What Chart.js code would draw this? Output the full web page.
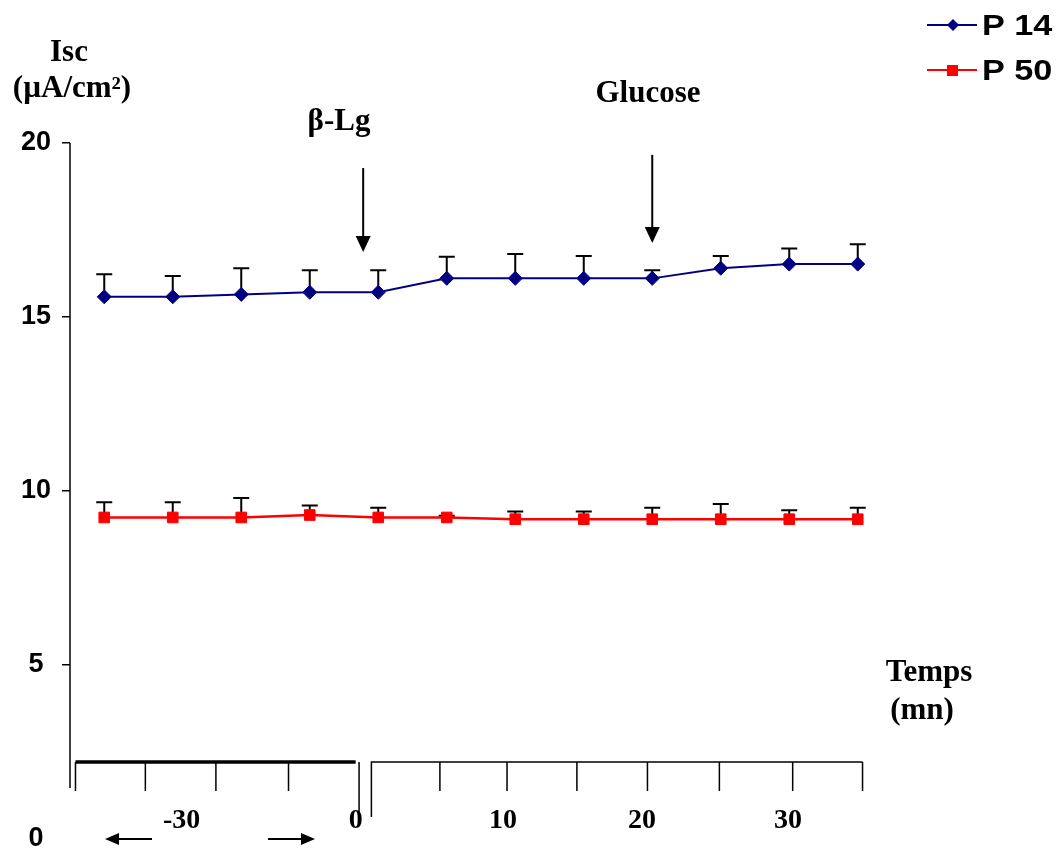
<!DOCTYPE html>
<html>
<head>
<meta charset="utf-8">
<title>Isc P14 / P50</title>
<script src="https://cdn.jsdelivr.net/npm/chart.js"></script>
<style>
  html, body { margin: 0; padding: 0; background: #fff; overflow: hidden; }
  #wrap { position: relative; width: 1060px; height: 853px; }
</style>
</head>
<body>
<div id="wrap"><canvas id="iscChart"></canvas></div>
<script>
// measurement points (index along the broken time axis)
const points = [1, 2, 3, 4, 5, 6, 7, 8, 9, 10, 11, 12];
const p14 = [15.58, 15.58, 15.65, 15.71, 15.71, 16.11, 16.11, 16.11, 16.11, 16.40, 16.52, 16.52];
const p14Err = [0.65, 0.60, 0.75, 0.63, 0.63, 0.62, 0.70, 0.64, 0.23, 0.35, 0.45, 0.57];
const p50 = [9.24, 9.24, 9.24, 9.31, 9.24, 9.24, 9.19, 9.19, 9.19, 9.19, 9.19, 9.19];
const p50Err = [0.44, 0.44, 0.56, 0.27, 0.28, 0.05, 0.22, 0.22, 0.33, 0.44, 0.26, 0.33];
const yTicks = [0, 5, 10, 15, 20];
const timeLabels = ['-30', '0', '10', '20', '30'];

const serif = 'bold 31px "Liberation Serif", "Times New Roman", serif';
const sans = '"Liberation Sans", Arial, sans-serif';

// broken time axis drawn under the plot, positions in x-scale units
const timeAxis = {
  pre: { start: 0.58, end: 4.67, ticks: [0.58, 1.6, 2.63, 3.69], split: 4.72 },
  post: { start: 4.9, end: 12.07, ticks: [5.9, 6.88, 7.9, 8.93, 9.98, 11.05, 12.07] },
  labelAt: [2.13, 4.67, 6.82, 8.85, 10.98]
};

const annotations = {
  id: 'annotations',
  beforeDatasetsDraw(chart) {
    const { ctx, scales: { x, y } } = chart;
    ctx.save();
    ctx.strokeStyle = '#000';
    ctx.lineWidth = 2;
    [[p14, p14Err], [p50, p50Err]].forEach(([vals, errs]) => {
      vals.forEach((v, i) => {
        const px = x.getPixelForValue(points[i]);
        const y0 = y.getPixelForValue(v);
        const y1 = y.getPixelForValue(v + errs[i]);
        ctx.beginPath();
        ctx.moveTo(px, y0);
        ctx.lineTo(px, y1);
        ctx.moveTo(px - 8, y1);
        ctx.lineTo(px + 8, y1);
        ctx.stroke();
      });
    });
    ctx.restore();
  },
  afterDraw(chart) {
    const { ctx, chartArea, scales: { x, y } } = chart;
    const left = chartArea.left;
    ctx.save();
    ctx.strokeStyle = '#000';
    ctx.fillStyle = '#000';

    // y axis line
    ctx.lineWidth = 1.5;
    ctx.beginPath();
    ctx.moveTo(left, y.getPixelForValue(20));
    ctx.lineTo(left, 788);
    ctx.stroke();

    // treatment arrows
    const arrow = (xv, yTop, yTip) => {
      const px = x.getPixelForValue(xv);
      const t = y.getPixelForValue(yTop), b = y.getPixelForValue(yTip);
      ctx.lineWidth = 2;
      ctx.beginPath();
      ctx.moveTo(px, t);
      ctx.lineTo(px, b - 14);
      ctx.stroke();
      ctx.beginPath();
      ctx.moveTo(px - 7.5, b - 16);
      ctx.lineTo(px + 7.5, b - 16);
      ctx.lineTo(px, b);
      ctx.closePath();
      ctx.fill();
    };
    arrow(4.78, 19.28, 16.87);
    arrow(9, 19.66, 17.13);

    ctx.font = serif;
    ctx.textAlign = 'center';
    ctx.textBaseline = 'alphabetic';
    ctx.fillText('Isc', 69, 61);
    ctx.fillText('(µA/cm²)', 72, 97);
    ctx.fillText('β-Lg', 339, 130);
    ctx.fillText('Glucose', 648, 102);
    ctx.fillText('Temps', 929, 681);
    ctx.fillText('(mn)', 922, 719);

    // broken time axis
    const axY = 762, tickB = 791, longB = 817;
    const pre = timeAxis.pre, post = timeAxis.post;
    ctx.lineWidth = 3.5;
    ctx.beginPath();
    ctx.moveTo(x.getPixelForValue(pre.start), axY);
    ctx.lineTo(x.getPixelForValue(pre.end), axY);
    ctx.stroke();
    ctx.lineWidth = 1.5;
    ctx.beginPath();
    pre.ticks.forEach(t => {
      const px = x.getPixelForValue(t);
      ctx.moveTo(px, axY);
      ctx.lineTo(px, tickB);
    });
    let sp = x.getPixelForValue(pre.split);
    ctx.moveTo(sp, axY);
    ctx.lineTo(sp, longB);
    sp = x.getPixelForValue(post.start);
    ctx.moveTo(sp, longB);
    ctx.lineTo(sp, axY);
    ctx.lineTo(x.getPixelForValue(post.end), axY);
    post.ticks.forEach(t => {
      const px = x.getPixelForValue(t);
      ctx.moveTo(px, axY);
      ctx.lineTo(px, tickB);
    });
    ctx.stroke();

    ctx.font = 'bold 28px "Liberation Serif", "Times New Roman", serif';
    timeLabels.forEach((lab, i) => {
      ctx.fillText(lab, x.getPixelForValue(timeAxis.labelAt[i]), 828);
    });

    // horizontal arrows under the axis
    const hArrow = (from, to) => {
      const dir = Math.sign(to - from);
      ctx.lineWidth = 2;
      ctx.beginPath();
      ctx.moveTo(from, 839);
      ctx.lineTo(to - dir * 12, 839);
      ctx.stroke();
      ctx.beginPath();
      ctx.moveTo(to, 839);
      ctx.lineTo(to - dir * 14, 833);
      ctx.lineTo(to - dir * 14, 845);
      ctx.closePath();
      ctx.fill();
    };
    hArrow(152, 105);
    hArrow(268, 315);

    // legend
    const legend = [
      { label: 'P 14', color: '#000080', style: 'diamond', yy: 25, base: 35 },
      { label: 'P 50', color: '#FF0000', style: 'square', yy: 70, base: 80 }
    ];
    legend.forEach(it => {
      ctx.strokeStyle = it.color;
      ctx.fillStyle = it.color;
      ctx.lineWidth = 2;
      ctx.beginPath();
      ctx.moveTo(927, it.yy);
      ctx.lineTo(977, it.yy);
      ctx.stroke();
      ctx.beginPath();
      if (it.style === 'diamond') {
        ctx.moveTo(953, it.yy - 6);
        ctx.lineTo(959, it.yy);
        ctx.lineTo(953, it.yy + 6);
        ctx.lineTo(947, it.yy);
      } else {
        ctx.rect(947, it.yy - 5, 11, 11);
      }
      ctx.fill();
      ctx.fillStyle = '#000';
      ctx.font = 'bold 29px ' + sans;
      ctx.textAlign = 'left';
      ctx.save();
      ctx.translate(982, it.base);
      ctx.scale(1.18, 1);
      ctx.fillText(it.label, 0, 0);
      ctx.restore();
    });
    ctx.restore();
  }
};

new Chart(document.getElementById('iscChart'), {
  type: 'line',
  data: {
    datasets: [
      {
        label: 'P 14',
        data: points.map((p, i) => ({ x: p, y: p14[i] })),
        borderColor: '#000080',
        backgroundColor: '#000080',
        borderWidth: 2,
        pointStyle: 'rectRot',
        pointRadius: 7,
        pointBorderWidth: 1
      },
      {
        label: 'P 50',
        data: points.map((p, i) => ({ x: p, y: p50[i] })),
        borderColor: '#FF0000',
        backgroundColor: '#FF0000',
        borderWidth: 2.5,
        pointStyle: 'rect',
        pointRadius: 7.5,
        pointBorderWidth: 1
      }
    ]
  },
  options: {
    responsive: true,
    maintainAspectRatio: false,
    animation: false,
    layout: { padding: { top: 143, right: 168, bottom: 14, left: 0 } },
    plugins: { legend: { display: false }, tooltip: { enabled: false } },
    scales: {
      x: { type: 'linear', min: 0.5, max: 12.5, display: false },
      y: {
        min: 0,
        max: 20,
        afterBuildTicks: s => { s.ticks = yTicks.map(v => ({ value: v })); },
        afterFit: s => { s.width = 70; s.paddingTop = 0; s.paddingBottom = 0; },
        border: { display: false },
        grid: {
          drawOnChartArea: false,
          tickLength: 8,
          lineWidth: 1.5,
          color: c => (c.tick && c.tick.value === 0 ? 'rgba(0,0,0,0)' : '#000')
        },
        ticks: {
          color: '#000',
          padding: 11,
          crossAlign: 'center',
          font: { family: sans, weight: 'bold', size: 27, lineHeight: 1 }
        }
      }
    }
  },
  plugins: [annotations]
});
</script>
</body>
</html>
